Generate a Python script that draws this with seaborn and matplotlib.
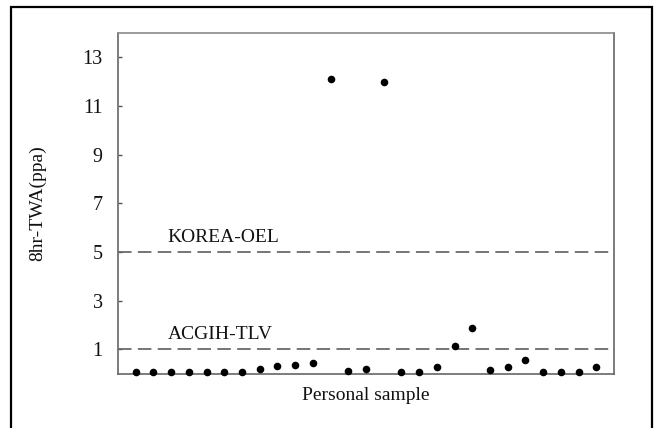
import matplotlib
matplotlib.use("Agg")
import matplotlib.pyplot as plt
from matplotlib.patches import Rectangle
import seaborn as sns
import pandas as pd

samples = list(range(1, 28))
twa = [0.05, 0.05, 0.05, 0.05, 0.05, 0.05, 0.05, 0.17, 0.30, 0.35, 0.45,
       12.1, 0.12, 0.20, 12.0, 0.08, 0.08, 0.28, 1.15, 1.88,
       0.15, 0.28, 0.55, 0.07, 0.07, 0.07, 0.25]
ytick_values = [1, 3, 5, 7, 9, 11, 13]
limit_values = [5, 1]
limit_labels = ["KOREA-OEL", "ACGIH-TLV"]

df = pd.DataFrame({"sample": samples, "twa": twa})

sns.set_theme(style="white")
plt.rcParams["font.family"] = ["Liberation Serif", "DejaVu Serif"]

fig = plt.figure(figsize=(6.6, 4.28), dpi=100)
ax = fig.add_axes([118/660, 1-373.5/428, (614-118)/660, (373.5-33)/428])

sns.scatterplot(data=df, x="sample", y="twa", ax=ax, color="black",
                s=30, edgecolor="black", linewidth=0, clip_on=False, zorder=3)

for val, lab in zip(limit_values, limit_labels):
    ax.axhline(val, color="#6a6a6a", lw=1.3, dashes=(7.5, 3.5), zorder=2)
    ax.text(2.8, val + 0.42, lab, fontsize=14, color="#111111",
            ha="left", va="baseline")

ax.set_xlim(0, 28)
ax.set_ylim(0, 14)
ax.set_xticks([])
ax.set_yticks(ytick_values)
ax.tick_params(axis="y", direction="in", length=3, width=1, color="#555555",
               labelsize=14.5, pad=11, left=True, labelcolor="#111111")

for side, sp in ax.spines.items():
    sp.set_visible(True)
    sp.set_color("#666666")
    sp.set_linewidth(1.2)
ax.spines["top"].set_color("#8a8a8a")

ax.set_xlabel("Personal sample", fontsize=14, color="#111111", labelpad=10)
ax.set_ylabel("8hr-TWA(ppa)", fontsize=14, color="#111111")
ax.yaxis.set_label_coords(-0.145, 0.5)

fig.add_artist(Rectangle((11/660, -0.05), (652-11)/660, (428-7)/428 + 0.05,
                         transform=fig.transFigure, fill=False,
                         edgecolor="black", linewidth=1.6))

fig.savefig("out.png", dpi=100)
